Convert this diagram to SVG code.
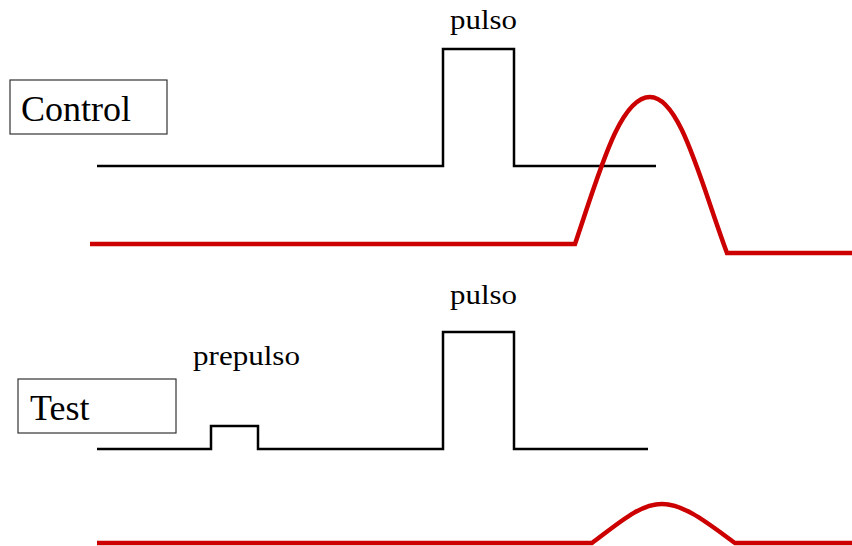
<svg xmlns="http://www.w3.org/2000/svg" width="852" height="546" viewBox="0 0 852 546">
<style>
.box{fill:#fff;stroke:#333;stroke-width:1.2}
.lbl{font-family:"Liberation Serif",serif;font-size:36px;fill:#000}
.sm{font-family:"Liberation Serif",serif;font-size:27px;fill:#000}
.sig{fill:none;stroke:#000;stroke-width:2.5}
.resp{fill:none;stroke:#CC0000;stroke-width:4.5}
</style>
<rect width="852" height="546" fill="#fff"/>
<g id="control-label">
<rect class="box" x="10" y="80" width="157" height="54"/>
<text class="lbl" x="21" y="121">Control</text>
</g>
<g id="test-label">
<rect class="box" x="18" y="379" width="158" height="54"/>
<text class="lbl" x="30" y="420">Test</text>
</g>
<g id="labels">
<text class="sm" x="450" y="29" textLength="67" lengthAdjust="spacingAndGlyphs">pulso</text>
<text class="sm" x="450" y="304" textLength="67" lengthAdjust="spacingAndGlyphs">pulso</text>
<text class="sm" x="193" y="365" textLength="107" lengthAdjust="spacingAndGlyphs">prepulso</text>
</g>
<g id="connectors">
<path class="sig" d="M97,166 H443 V49 H514 V166 H656"/>
<path class="resp" d="M90,244 H575 C600,170 620,97 650,97 C680,97 700,180 727,253 H852"/>
<path class="sig" d="M97,449 H211 V426 H258 V449 H443 V332 H514 V449 H648"/>
<path class="resp" d="M97,543 H592 C620,522 640,504 662,504 C685,504 710,525 735,543 H852"/>
</g>
</svg>
